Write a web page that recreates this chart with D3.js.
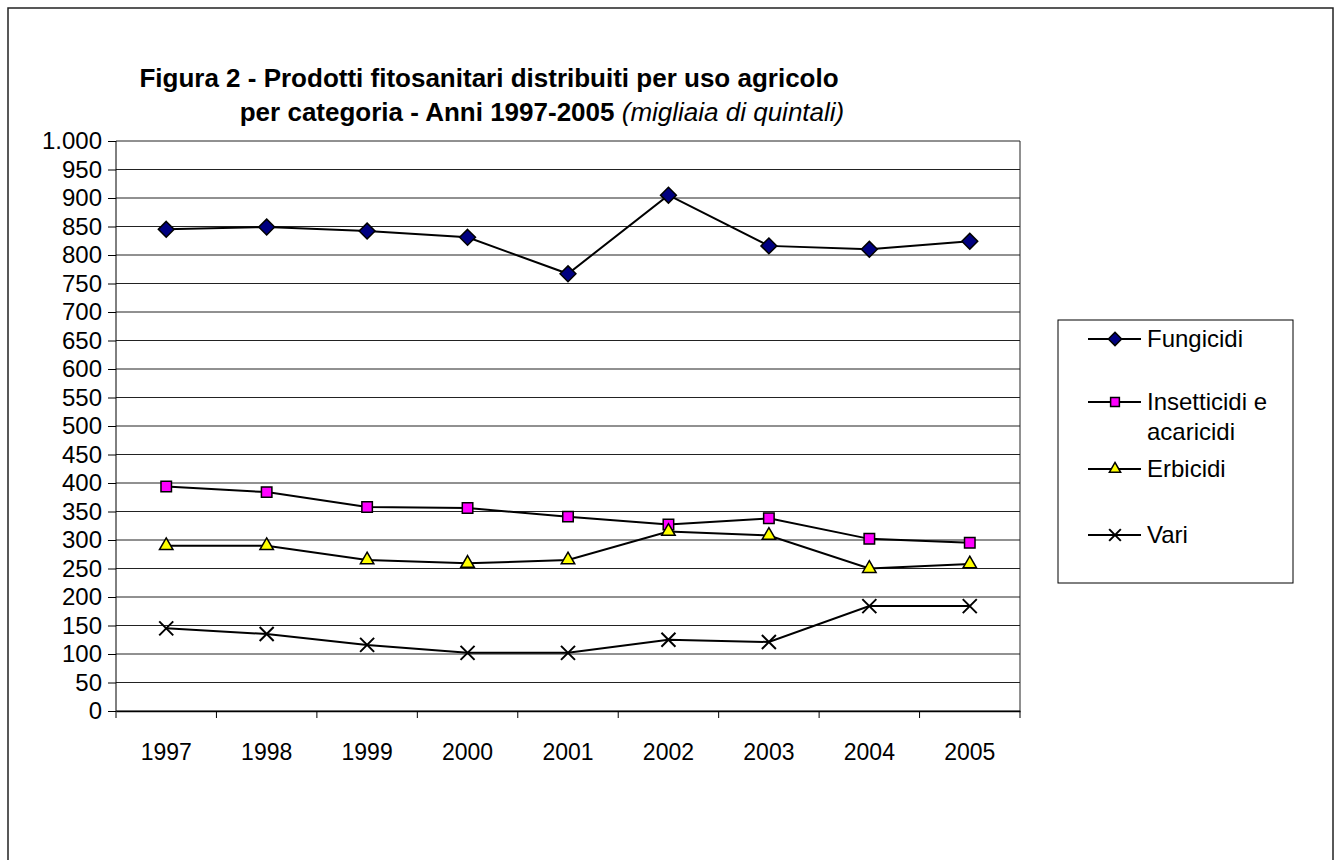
<!DOCTYPE html>
<html>
    <head>
        <meta charset="utf-8">
        <script type="text/javascript" src="https://cdn.jsdelivr.net/npm/d3@7"></script>
        <style>
            body { margin: 0; background: #fff; }
            text { font-family: Arial, "Liberation Sans", sans-serif; fill: #000; }
        </style>
    </head>
    <body>
        <svg></svg>

        <script>
            // dati (migliaia di quintali)
            var anni = ["1997", "1998", "1999", "2000", "2001", "2002", "2003", "2004", "2005"];
            var fungicidi = [845, 849, 842, 831, 767, 905, 816, 810, 824];
            var insetticidi = [394, 384, 358, 356, 341, 327, 338, 302, 295];
            var erbicidi = [290, 290, 265, 259, 265, 315, 308, 250, 258];
            var vari = [145, 135, 116, 102, 102, 125, 121, 184, 184];
            var yTicks = d3.range(0, 1001, 50);

            var serie = [
                {nome: "Fungicidi", valori: fungicidi, simbolo: d3.symbolDiamond2, fill: "#000080", size: 160},
                {nome: "Insetticidi e acaricidi", valori: insetticidi, simbolo: d3.symbolSquare2, fill: "#ff00ff", size: 140},
                {nome: "Erbicidi", valori: erbicidi, simbolo: d3.symbolTriangle2, fill: "#ffff00", size: 130},
                {nome: "Vari", valori: vari, simbolo: d3.symbolX, fill: "none", size: 130}
            ];

            var w = 1339, h = 860;
            var svg = d3.select("svg")
                    .attr("width", w)
                    .attr("height", h);

            // bordo esterno
            svg.append("rect")
                    .attr("x", 8).attr("y", 8)
                    .attr("width", 1325).attr("height", 870)
                    .attr("fill", "none")
                    .attr("stroke", "#222")
                    .attr("stroke-width", 1.5);

            var x = d3.scaleBand().domain(anni).range([116, 1020]);
            var y = d3.scaleLinear().domain([0, 1000]).range([711, 141]);
            var cx = function(i) { return x(anni[i]) + x.bandwidth() / 2; };

            var it = d3.formatLocale({decimal: ",", thousands: ".", grouping: [3], currency: ["", ""]});

            // griglia
            svg.append("g")
                    .selectAll("line")
                    .data(yTicks)
                    .enter().append("line")
                    .attr("x1", 116).attr("x2", 1020)
                    .attr("y1", function(d) { return y(d); })
                    .attr("y2", function(d) { return y(d); })
                    .attr("stroke", "#222")
                    .attr("stroke-width", 1);

            // bordo destro area del grafico
            svg.append("line")
                    .attr("x1", 1020).attr("x2", 1020)
                    .attr("y1", y(1000)).attr("y2", y(0))
                    .attr("stroke", "#222");

            // asse y
            var yAxis = svg.append("g")
                    .attr("transform", "translate(116,0)")
                    .call(d3.axisLeft(y)
                            .tickValues(yTicks)
                            .tickSize(8)
                            .tickPadding(6)
                            .tickFormat(it.format(",")));
            yAxis.select(".domain").remove();
            yAxis.append("line")
                    .attr("y1", y(1000)).attr("y2", y(0) + 7)
                    .attr("stroke", "#000");
            yAxis.selectAll("text").attr("font-size", 24).attr("font-family", null);
            yAxis.selectAll(".tick line").attr("stroke", "#000");

            // asse x
            var xAxis = svg.append("g")
                    .attr("transform", "translate(0," + y(0) + ")")
                    .call(d3.axisBottom(x).tickSize(0).tickPadding(33));
            xAxis.select(".domain").attr("stroke", "#000").attr("stroke-width", 1.5);
            xAxis.selectAll("text").attr("font-size", 23).attr("font-family", null);
            xAxis.selectAll(".bordo")
                    .data(anni.slice(1).concat([null]))
                    .enter().append("line")
                    .attr("class", "bordo")
                    .attr("x1", function(d) { return d ? x(d) : x.range()[1]; })
                    .attr("x2", function(d) { return d ? x(d) : x.range()[1]; })
                    .attr("y1", 0).attr("y2", 7)
                    .attr("stroke", "#000");

            // linee e simboli
            var line = d3.line()
                    .x(function(d, i) { return cx(i); })
                    .y(function(d) { return y(d); });

            serie.forEach(function(s) {
                svg.append("path")
                        .datum(s.valori)
                        .attr("d", line)
                        .attr("fill", "none")
                        .attr("stroke", "#000")
                        .attr("stroke-width", 2);

                svg.append("g")
                        .selectAll("path")
                        .data(s.valori)
                        .enter().append("path")
                        .attr("transform", function(d, i) { return "translate(" + cx(i) + "," + y(d) + ")"; })
                        .attr("d", d3.symbol().type(s.simbolo).size(s.size))
                        .attr("fill", s.fill)
                        .attr("stroke", "#000")
                        .attr("stroke-width", s.fill == "none" ? 2 : 1.5);
            });

            // titolo
            var titolo = svg.append("text")
                    .attr("text-anchor", "middle")
                    .attr("font-size", 26)
                    .attr("font-weight", "bold");
            titolo.append("tspan")
                    .attr("x", 489).attr("y", 87)
                    .text("Figura 2 - Prodotti fitosanitari distribuiti per uso agricolo");
            var riga2 = titolo.append("tspan")
                    .attr("x", 542).attr("y", 121);
            riga2.append("tspan").text("per categoria - Anni 1997-2005 ");
            riga2.append("tspan").attr("font-weight", "normal").attr("font-style", "italic").text("(migliaia di quintali)");

            // legenda
            var legenda = svg.append("g");
            legenda.append("rect")
                    .attr("x", 1058).attr("y", 320)
                    .attr("width", 235).attr("height", 263)
                    .attr("fill", "#fff")
                    .attr("stroke", "#000");

            var voci = [
                {s: serie[0], y: 339, righe: ["Fungicidi"]},
                {s: serie[1], y: 402, righe: ["Insetticidi e", "acaricidi"]},
                {s: serie[2], y: 469, righe: ["Erbicidi"]},
                {s: serie[3], y: 535, righe: ["Vari"]}
            ];

            var voce = legenda.selectAll(".voce")
                    .data(voci)
                    .enter().append("g")
                    .attr("class", "voce")
                    .attr("transform", function(d) { return "translate(0," + d.y + ")"; });
            voce.append("line")
                    .attr("x1", 1088).attr("x2", 1141)
                    .attr("stroke", "#000").attr("stroke-width", 2);
            voce.append("path")
                    .attr("transform", "translate(1115,0)")
                    .attr("d", function(d) { return d3.symbol().type(d.s.simbolo).size(d.s.size * 0.7)(); })
                    .attr("fill", function(d) { return d.s.fill; })
                    .attr("stroke", "#000")
                    .attr("stroke-width", function(d) { return d.s.fill == "none" ? 2 : 1.5; });
            voce.append("text")
                    .attr("font-size", 24)
                    .selectAll("tspan")
                    .data(function(d) { return d.righe; })
                    .enter().append("tspan")
                    .attr("x", 1147)
                    .attr("y", function(d, i) { return i * 30; })
                    .attr("dy", "0.35em")
                    .text(function(d) { return d; });
        </script>
    </body>
</html>
